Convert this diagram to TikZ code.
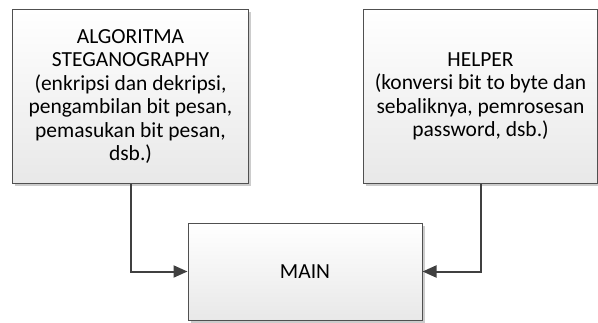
\documentclass[tikz,border=0pt]{standalone}
\usepackage{fontspec}
\setmainfont{Carlito}
\usetikzlibrary{arrows.meta,shadows}
\definecolor{edge}{HTML}{505050}
\definecolor{conn}{HTML}{404040}
\tikzset{
  box/.style={draw=edge, line width=1bp, top color=white, bottom color=black!9,
    drop shadow={shadow xshift=2.5bp, shadow yshift=-2.5bp, fill=black!20, opacity=1},
    align=center, inner sep=0pt, font=\fontsize{21.5bp}{23.5bp}\selectfont, text=black},
  conn/.style={draw=conn, line width=2bp, -{Triangle[length=14bp,width=12bp]}}
}
\begin{document}
\begin{tikzpicture}[x=1bp,y=-1bp]
\useasboundingbox (0,0) rectangle (598,322);
\node[box, minimum width=235bp, minimum height=174bp] (alg) at (130.5,96.5)
  {ALGORITMA\\STEGANOGRAPHY\\(enkripsi dan dekripsi,\\pengambilan bit pesan,\\pemasukan bit pesan,\\dsb.)};
\node[box, minimum width=234bp, minimum height=174bp] (help) at (480.5,96.5)
  {HELPER\\(konversi bit to byte dan\\sebaliknya, pemrosesan\\password, dsb.)};
\node[box, minimum width=234bp, minimum height=97bp] (main) at (305,271.5) {MAIN};
\draw[conn] (alg.south) |- (main.west);
\draw[conn] (help.south) |- (main.east);
\end{tikzpicture}
\end{document}
